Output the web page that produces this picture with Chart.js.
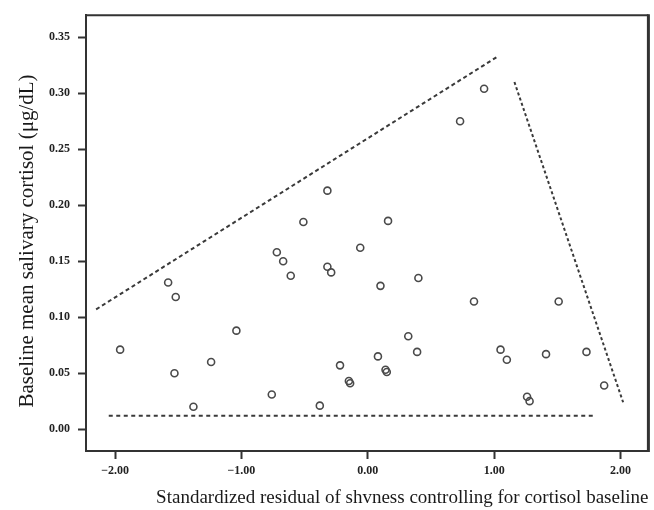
<!DOCTYPE html>
<html>
<head>
<meta charset="utf-8">
<script src="https://cdn.jsdelivr.net/npm/chart.js@4/dist/chart.umd.min.js"></script>
<style>
  html, body { margin: 0; padding: 0; background: #fff; }
  #wrap { width: 654px; height: 510px; }
</style>
</head>
<body>
<div id="wrap"><canvas id="scatter"></canvas></div>
<script>
// shyness residual vs baseline cortisol
const shynessResidual = [
  -1.96, -1.58, -1.52, -1.53, -1.38, -1.24, -1.04, -0.76, -0.72, -0.67,
  -0.61, -0.51, -0.38, -0.32, -0.32, -0.29, -0.22, -0.15, -0.14, -0.06,
   0.08,  0.10,  0.14,  0.15,  0.16,  0.32,  0.39,  0.40,  0.73,  0.84,
   0.92,  1.05,  1.10,  1.26,  1.28,  1.41,  1.51,  1.73,  1.87
];
const cortisolBaseline = [
  0.071, 0.131, 0.118, 0.050, 0.020, 0.060, 0.088, 0.031, 0.158, 0.150,
  0.137, 0.185, 0.021, 0.213, 0.145, 0.140, 0.057, 0.043, 0.041, 0.162,
  0.065, 0.128, 0.053, 0.051, 0.186, 0.083, 0.069, 0.135, 0.275, 0.114,
  0.304, 0.071, 0.062, 0.029, 0.025, 0.067, 0.114, 0.069, 0.039
];

// dashed boundary lines
const upperLineX = [-2.15, 1.03];
const upperLineY = [0.107, 0.333];
const rightLineX = [1.16, 2.02];
const rightLineY = [0.310, 0.024];
const floorLineX = [-2.05, 1.79];
const floorLineY = [0.012, 0.012];

const xTicks = [-2, -1, 0, 1, 2];
const yTicks = [0, 0.05, 0.10, 0.15, 0.20, 0.25, 0.30, 0.35];

const ink = '#333';
const toPts = (xs, ys) => xs.map((x, i) => ({ x: x, y: ys[i] }));

function lineSet(xs, ys, dash) {
  return {
    type: 'line',
    data: toPts(xs, ys),
    borderColor: '#3a3a3a',
    borderWidth: 2,
    borderDash: dash,
    pointRadius: 0,
    fill: false
  };
}

// top + right edges of the box
const frame = {
  id: 'frame',
  afterDatasetsDraw(chart) {
    const { ctx, chartArea: a } = chart;
    ctx.save();
    ctx.strokeStyle = ink;
    ctx.lineWidth = 2;
    ctx.beginPath();
    ctx.moveTo(a.left - 1, a.top);
    ctx.lineTo(a.right, a.top);
    ctx.stroke();
    ctx.lineWidth = 3;
    ctx.beginPath();
    ctx.moveTo(a.right, a.top - 1);
    ctx.lineTo(a.right, a.bottom + 1);
    ctx.stroke();
    ctx.restore();
  }
};

const tickFont = { family: 'Liberation Serif', size: 12, weight: 'bold' };

new Chart(document.getElementById('scatter'), {
  type: 'scatter',
  data: {
    datasets: [
      lineSet(upperLineX, upperLineY, [4, 3]),
      lineSet(rightLineX, rightLineY, [3, 2.5]),
      lineSet(floorLineX, floorLineY, [4, 3.5]),
      {
        data: toPts(shynessResidual, cortisolBaseline),
        pointRadius: 3.5,
        pointBorderWidth: 1.6,
        pointBorderColor: '#4a4a4a',
        pointBackgroundColor: 'rgba(0,0,0,0)'
      }
    ]
  },
  options: {
    responsive: true,
    maintainAspectRatio: false,
    animation: false,
    events: [],
    layout: { padding: { top: 12, right: 5, left: 0, bottom: 0 } },
    plugins: { legend: { display: false }, tooltip: { enabled: false } },
    scales: {
      x: {
        type: 'linear',
        min: -2.23,
        max: 2.22,
        afterFit(s) { s.height = 59; },
        afterBuildTicks(s) { s.ticks = xTicks.map(v => ({ value: v })); },
        grid: { drawOnChartArea: false, tickLength: 8, tickWidth: 2, color: ink },
        border: { display: true, color: ink, width: 2 },
        ticks: {
          padding: 5,
          color: '#222',
          font: tickFont,
          callback: v => (v < 0 ? '\u2212' : '') + Math.abs(v).toFixed(2)
        },
        title: {
          display: true,
          text: 'Standardized residual of shvness controlling for cortisol baseline',
          align: 'end',
          color: '#1a1a1a',
          font: { family: 'Liberation Serif', size: 19 },
          padding: { top: 0, bottom: 1 }
        }
      },
      y: {
        type: 'linear',
        min: -0.0195,
        max: 0.3697,
        afterFit(s) { s.width = 86; },
        afterBuildTicks(s) { s.ticks = yTicks.map(v => ({ value: v })); },
        grid: { drawOnChartArea: false, tickLength: 8, tickWidth: 2, color: ink },
        border: { display: true, color: ink, width: 2 },
        ticks: {
          padding: 8,
          color: '#222',
          font: tickFont,
          callback: v => v.toFixed(2)
        },
        title: {
          display: true,
          text: 'Baseline mean salivary cortisol (\u03bcg/dL)\u00a0\u00a0\u00a0',
          align: 'center',
          color: '#1a1a1a',
          font: { family: 'Liberation Serif', size: 21 },
          padding: { top: 15, bottom: 0 }
        }
      }
    }
  },
  plugins: [frame]
});
</script>
</body>
</html>
